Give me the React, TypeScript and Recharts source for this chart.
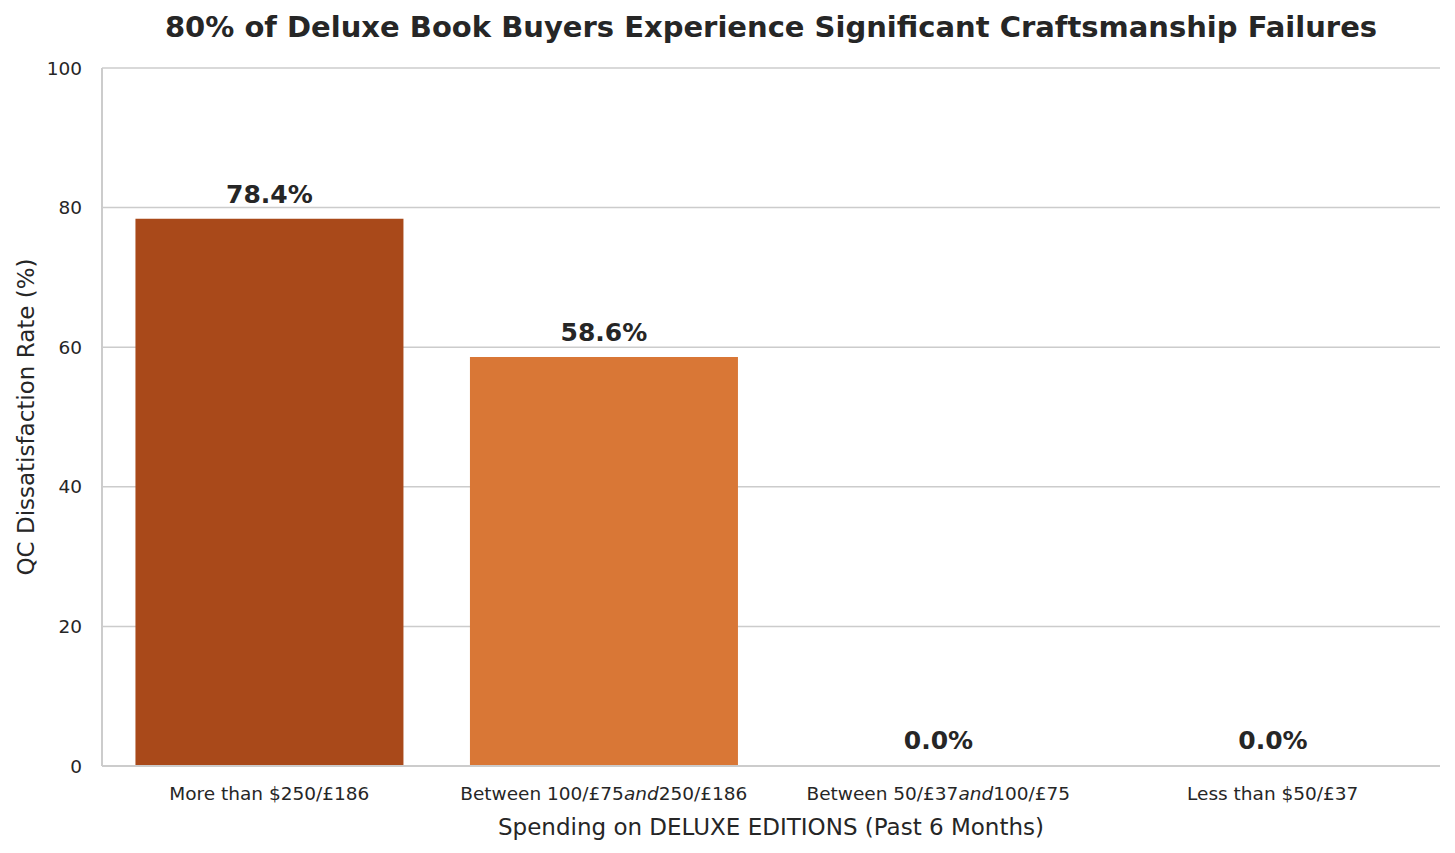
import { BarChart, Bar, XAxis, YAxis, CartesianGrid, Cell, LabelList } from "recharts"

const categories = [
    "More than $250/£186",
    "Between 100/£75and250/£186",
    "Between 50/£37and100/£75",
    "Less than $50/£37",
]
const rates = [78.4, 58.6, 0.0, 0.0]
const barColors = ["#a9491a", "#d97736", "#d4d4d4", "#d4d4d4"]
const yTicks = [0, 20, 40, 60, 80, 100]

const data = categories.map((c, i) => ({ category: c, rate: rates[i] }))

const font = "'DejaVu Sans', sans-serif"

function SpendTick(props: any) {
    const { x, y, payload } = props
    const label: string = payload.value
    const parts = label.split("and")
    return (
        <text x={x} y={y} dy="0.71em" textAnchor="middle" fontSize={18.5} fill="#262626" fontFamily={font}>
            {parts.length === 2 ? (
                <>
                    <tspan>{parts[0]}</tspan>
                    <tspan fontStyle="italic">and</tspan>
                    <tspan>{parts[1]}</tspan>
                </>
            ) : label}
        </text>
    )
}

export default function App() {
    return (
        <div style={{ position: "absolute", left: 0, top: 0, width: 1455, height: 853, background: "#fff", fontFamily: font }}>
            <div style={{ position: "absolute", left: 102, width: 1338, top: 10, textAlign: "center", fontSize: 29, fontWeight: "bold", color: "#262626" }}>
                80% of Deluxe Book Buyers Experience Significant Craftsmanship Failures
            </div>
            <BarChart width={1455} height={853} data={data} margin={{ top: 68, right: 15, left: 0, bottom: 0 }} barCategoryGap="10%">
                <CartesianGrid vertical={false} stroke="#cccccc" strokeWidth={1.5} />
                <XAxis
                    dataKey="category"
                    height={87}
                    tickLine={false}
                    axisLine={{ stroke: "#cccccc", strokeWidth: 2 }}
                    tick={<SpendTick />}
                    tickMargin={15}
                    interval={0}
                    label={{ value: "Spending on DELUXE EDITIONS (Past 6 Months)", position: "insideBottom", offset: 18, fontSize: 23, fill: "#262626", fontFamily: font }}
                />
                <YAxis
                    width={102}
                    domain={[0, 100]}
                    ticks={yTicks}
                    tickLine={false}
                    axisLine={{ stroke: "#cccccc", strokeWidth: 2 }}
                    tickMargin={14}
                    tick={{ fontSize: 18.5, fill: "#262626", fontFamily: font }}
                    label={{ value: "QC Dissatisfaction Rate (%)", angle: -90, position: "insideLeft", offset: 26, fontSize: 23, fill: "#262626", fontFamily: font, style: { textAnchor: "middle" } }}
                />
                <Bar dataKey="rate" isAnimationActive={false} minPointSize={1}>
                    {data.map((d, i) => (
                        <Cell key={d.category} fill={barColors[i]} />
                    ))}
                    <LabelList
                        dataKey="rate"
                        position="top"
                        offset={16}
                        formatter={(v: any) => `${Number(v).toFixed(1)}%`}
                        style={{ fontSize: 25, fontWeight: "bold", fill: "#262626", fontFamily: font }}
                    />
                </Bar>
            </BarChart>
        </div>
    )
}
